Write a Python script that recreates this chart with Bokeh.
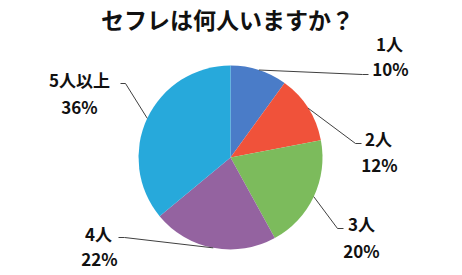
import math
from bokeh.plotting import figure
from bokeh.models import Range1d, ColumnDataSource
from bokeh.core.properties import value
from bokeh.embed import file_html
from bokeh.resources import INLINE

# ---- data ----
title_text = "セフレは何人いますか？"
categories = ["1人", "2人", "3人", "4人", "5人以上"]
percents = [10, 12, 20, 22, 36]
colors = ["#4A7CC8", "#F0523A", "#7CBB5C", "#9463A0", "#27A9DB"]

# ---- layout (pixel coords, y down) ----
W, H = 462, 275
CX, CY, R = 230, 157, 92
label_pos = [(389, 43), (378, 138), (361, 223), (98, 233), (79, 79)]
pct_pos = [(390, 68), (379, 164), (361, 250), (99, 258), (79, 106)]
# leader line knee / end points
knee = [(362, 74), (355, 143), (337, 228), (124, 237), (125, 83)]
end = [(368, 74), (361, 143), (343, 228), (118, 237), (120, 83)]

def Y(y):
    return H - y

p = figure(width=W, height=H, x_range=Range1d(0, W), y_range=Range1d(0, H),
           output_backend="svg", toolbar_location=None,
           x_axis_location=None, y_axis_location=None, min_border=0)
p.grid.visible = False
p.outline_line_color = None
p.background_fill_color = "white"
p.border_fill_color = "white"

total = float(sum(percents))
starts, ends, mids = [], [], []
cum = 0.0
for v in percents:
    a0 = math.pi / 2 - 2 * math.pi * cum / total
    cum += v
    a1 = math.pi / 2 - 2 * math.pi * cum / total
    starts.append(a0)
    ends.append(a1)
    mids.append((a0 + a1) / 2)

src = ColumnDataSource(dict(x=[CX] * len(percents), y=[Y(CY)] * len(percents),
                            start=starts, end=ends, color=colors))
p.wedge(x="x", y="y", radius=R, start_angle="start", end_angle="end",
        direction="clock", fill_color="color", line_color=None, source=src)

# leader lines
xs, ys = [], []
for i, m in enumerate(mids):
    ex = CX + R * math.cos(m)
    ey = Y(CY) + R * math.sin(m)
    xs.append([ex, knee[i][0], end[i][0]])
    ys.append([ey, Y(knee[i][1]), Y(end[i][1])])
p.multi_line(xs=xs, ys=ys, line_color="#404040", line_width=1)

# labels
p.text(x=[q[0] for q in label_pos], y=[Y(q[1]) for q in label_pos], text=categories,
       text_font=value("Noto Sans CJK JP"), text_font_style="bold",
       text_font_size="17px", text_align="center", text_baseline="middle",
       text_color="#111111")
p.text(x=[q[0] for q in pct_pos], y=[Y(q[1]) for q in pct_pos],
       text=[f"{v}%" for v in percents],
       text_font=value("Noto Sans CJK JP"), text_font_style="bold",
       text_font_size="17px", text_align="center", text_baseline="middle",
       text_color="#111111")

# title
p.text(x=[W / 2 - 4], y=[Y(18)], text=[title_text],
       text_font=value("Noto Sans CJK JP"), text_font_style="bold",
       text_font_size="23px", text_align="center", text_baseline="middle",
       text_color="#111111")

open("out.html", "w").write(file_html(p, INLINE))
